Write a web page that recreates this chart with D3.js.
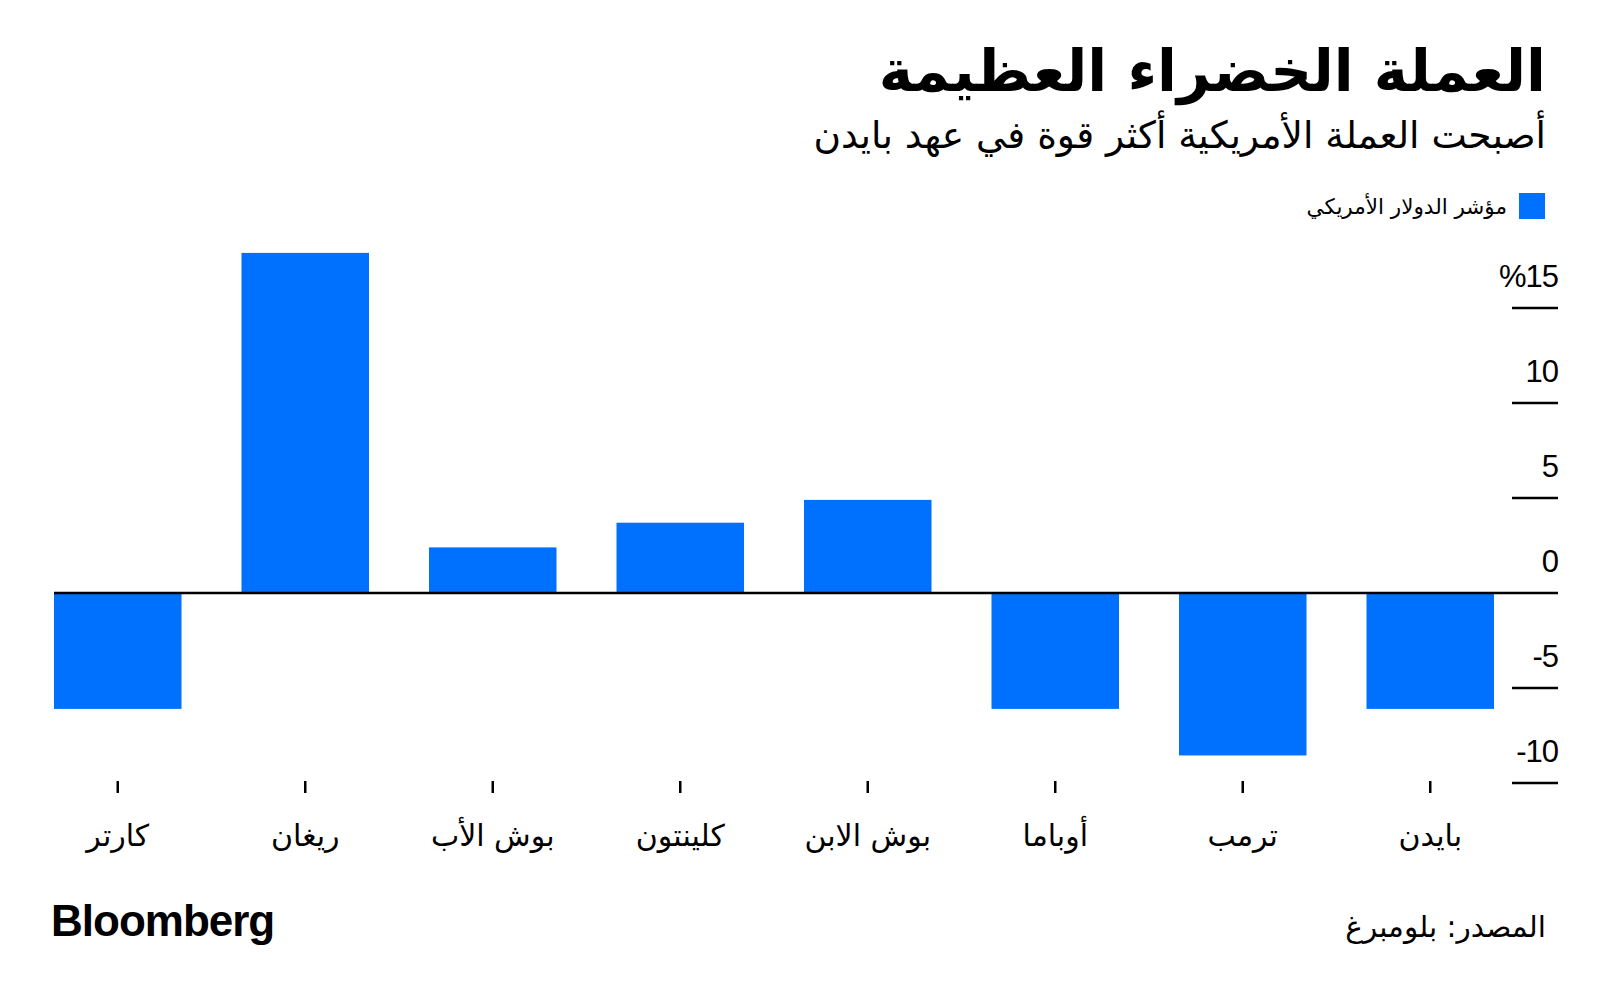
<!DOCTYPE html>
<html>
<head>
<meta charset="utf-8">
<script src="https://cdn.jsdelivr.net/npm/d3@7"></script>
<style>
  html, body { margin: 0; padding: 0; background: #fff; }
  svg { display: block; }
  text { font-family: "DejaVu Sans", "Noto Sans", sans-serif; fill: #000; }
</style>
</head>
<body>
<svg id="chart" width="1600" height="1000"></svg>
<script>
// ---- data ----
const categories = ["كارتر", "ريغان", "بوش الأب", "كلينتون", "بوش الابن", "أوباما", "ترمب", "بايدن"];
const values = [-6.1, 17.9, 2.4, 3.7, 4.9, -6.1, -8.55, -6.1];
const yTicks = [-10, -5, 0, 5, 10, 15];
const yTickLabels = ["-10", "-5", "0", "5", "10", "%15"];
const titleText = "العملة الخضراء العظيمة";
const subtitleText = "أصبحت العملة الأمريكية أكثر قوة في عهد بايدن";
const legendText = "مؤشر الدولار الأمريكي";
const sourceText = "المصدر: بلومبرغ";

const blue = "#0070ff";
const svg = d3.select("#chart");

const x = d3.scaleBand().domain(categories).range([54, 1494]).paddingInner(0.32).paddingOuter(0);
const y = d3.scaleLinear().domain([-10, 15]).range([783, 308]);

// title & subtitle
svg.append("text").attr("x", 1546).attr("y", 91).attr("text-anchor", "end")
  .style("font-size", "58px").style("font-weight", "bold").text(titleText);
svg.append("text").attr("x", 1546).attr("y", 148).attr("text-anchor", "end")
  .style("font-size", "37.5px").text(subtitleText);

// legend
svg.append("rect").attr("x", 1519).attr("y", 193).attr("width", 26).attr("height", 26).attr("fill", blue);
svg.append("text").attr("x", 1507).attr("y", 214).attr("text-anchor", "end")
  .style("font-size", "21.5px").text(legendText);

// y axis ticks (lines + labels above)
const yAxisG = svg.append("g");
yTicks.forEach((t, i) => {
  if (t !== 0) {
    yAxisG.append("line").attr("x1", 1512).attr("x2", 1558)
      .attr("y1", y(t)).attr("y2", y(t)).attr("stroke", "#000").attr("stroke-width", 2.5);
  }
  yAxisG.append("text").attr("x", 1558).attr("y", y(t) - 21).attr("text-anchor", "end")
    .attr("direction", "ltr")
    .style("font-family", "'Liberation Sans', Arial, sans-serif")
    .style("font-size", "31px").style("letter-spacing", "-1px").text(yTickLabels[i]);
});

// bars
svg.append("g").selectAll("rect").data(values).join("rect")
  .attr("x", (d, i) => x(categories[i]))
  .attr("width", x.bandwidth())
  .attr("y", d => y(Math.max(0, d)))
  .attr("height", d => Math.abs(y(d) - y(0)))
  .attr("fill", blue);

// zero line
svg.append("line").attr("x1", 54).attr("x2", 1558).attr("y1", y(0)).attr("y2", y(0))
  .attr("stroke", "#000").attr("stroke-width", 2.5);

// x axis ticks and labels
const xg = svg.append("g");
categories.forEach(c => {
  const cx = x(c) + x.bandwidth() / 2;
  xg.append("line").attr("x1", cx).attr("x2", cx).attr("y1", 781).attr("y2", 793)
    .attr("stroke", "#000").attr("stroke-width", 2.5);
  xg.append("text").attr("x", cx).attr("y", 846).attr("text-anchor", "middle")
    .style("font-size", "30px").text(c);
});

// footer
svg.append("text").attr("x", 51).attr("y", 936)
  .style("font-family", "'Liberation Sans', Arial, sans-serif")
  .style("font-size", "44px").style("font-weight", "bold").style("letter-spacing", "-1px")
  .text("Bloomberg");
svg.append("text").attr("x", 1546).attr("y", 937).attr("text-anchor", "end")
  .style("font-size", "29.5px").text(sourceText);
</script>
</body>
</html>
